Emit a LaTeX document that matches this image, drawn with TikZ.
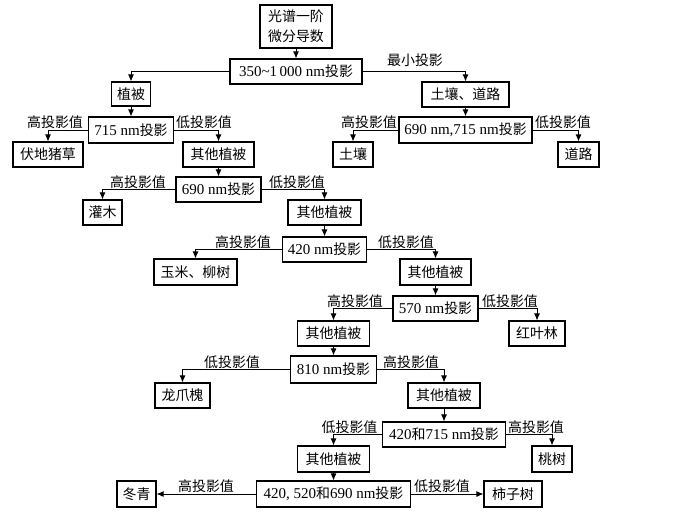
\documentclass[tikz,border=0pt]{standalone}
\usepackage{fontspec}
\setmainfont{Liberation Serif}
\newfontfamily\cjk[Scale=0.93]{Noto Sans CJK SC}
\newcommand\zh[1]{{\cjk #1}}
\usetikzlibrary{arrows.meta}
\begin{document}
\begin{tikzpicture}[x=1pt,y=-1pt,
  box/.style={draw, line width=1.1pt, minimum height=25pt, inner sep=0pt, font=\fontsize{15}{20}\selectfont},
  lab/.style={anchor=south, inner sep=1pt, font=\fontsize{15}{17}\selectfont},
  conn/.style={line width=0.9pt, -{Latex[length=7pt,width=6pt]}}]
\useasboundingbox (0,0) rectangle (700,511);
% boxes
\node[box, minimum width=72pt, minimum height=43pt, align=center] (top) at (296,26.5) {\zh{光谱一阶}\\\zh{微分导数}};
\node[box, minimum width=132pt] (p350) at (296,71.5) {350\textasciitilde1\,000 nm\zh{投影}};
\node[box, minimum width=39pt, minimum height=24pt] (zb) at (131,94) {\zh{植被}};
\node[box, minimum width=87pt] (trdl) at (465.5,94.5) {\zh{土壤、道路}};
\node[box, minimum width=85pt, minimum height=26pt] (p715) at (131,130) {715 nm\zh{投影}};
\node[box, minimum width=133pt, minimum height=26pt] (p690715) at (465.5,130) {690 nm,715 nm\zh{投影}};
\node[box, minimum width=70pt] (fdzc) at (48,154.5) {\zh{伏地猪草}};
\node[box, minimum width=71pt] (qt1) at (218.5,154.5) {\zh{其他植被}};
\node[box, minimum width=40pt] (tr) at (353,154.5) {\zh{土壤}};
\node[box, minimum width=41pt] (dl) at (578.5,154.5) {\zh{道路}};
\node[box, minimum width=85pt] (p690) at (218.5,189.5) {690 nm\zh{投影}};
\node[box, minimum width=39pt] (gm) at (102.5,212.5) {\zh{灌木}};
\node[box, minimum width=73pt] (qt2) at (324.5,212.5) {\zh{其他植被}};
\node[box, minimum width=84pt] (p420) at (324.5,249.5) {420 nm\zh{投影}};
\node[box, minimum width=83pt, minimum height=26pt] (ymls) at (195.5,272) {\zh{玉米、柳树}};
\node[box, minimum width=71pt, minimum height=26pt] (qt3) at (435.5,272) {\zh{其他植被}};
\node[box, minimum width=85pt] (p570) at (435.5,308.5) {570 nm\zh{投影}};
\node[box, minimum width=72pt] (qt4) at (333.5,333.5) {\zh{其他植被}};
\node[box, minimum width=56pt] (hyl) at (537,333.5) {\zh{红叶林}};
\node[box, minimum width=86pt, minimum height=27pt] (p810) at (333.5,369.5) {810 nm\zh{投影}};
\node[box, minimum width=55pt] (lzh) at (182.5,395.5) {\zh{龙爪槐}};
\node[box, minimum width=72pt] (qt5) at (444,395.5) {\zh{其他植被}};
\node[box, minimum width=123pt] (p420715) at (444,434.5) {420\zh{和}715 nm\zh{投影}};
\node[box, minimum width=72pt, minimum height=26pt] (qt6) at (333.5,459) {\zh{其他植被}};
\node[box, minimum width=40pt, minimum height=26pt] (ts) at (552,459) {\zh{桃树}};
\node[box, minimum width=154pt, minimum height=26pt] (p3) at (333.5,494) {420, 520\zh{和}690 nm\zh{投影}};
\node[box, minimum width=39pt, minimum height=26pt] (dq) at (136.5,494) {\zh{冬青}};
\node[box, minimum width=58pt, minimum height=26pt] (szs) at (513,494) {\zh{柿子树}};
% connectors
\draw[conn] (top.south) -- (p350.north);
\draw[conn] (p350.west) -| (zb.north);
\draw[conn] (p350.east) -| (trdl.north);
\draw[conn] (zb.south) -- (p715.north);
\draw[conn] (trdl.south) -- (p690715.north);
\draw[conn] (p715.west) -| (fdzc.north);
\draw[conn] (p715.east) -| (qt1.north);
\draw[conn] (p690715.west) -| (tr.north);
\draw[conn] (p690715.east) -| (dl.north);
\draw[conn] (qt1.south) -- (p690.north);
\draw[conn] (p690.west) -| (gm.north);
\draw[conn] (p690.east) -| (qt2.north);
\draw[conn] (qt2.south) -- (p420.north);
\draw[conn] (p420.west) -| (ymls.north);
\draw[conn] (p420.east) -| (qt3.north);
\draw[conn] (qt3.south) -- (p570.north);
\draw[conn] (p570.west) -| (qt4.north);
\draw[conn] (p570.east) -| (hyl.north);
\draw[conn] (qt4.south) -- (p810.north);
\draw[conn] (p810.west) -| (lzh.north);
\draw[conn] (p810.east) -| (qt5.north);
\draw[conn] (qt5.south) -- (p420715.north);
\draw[conn] (p420715.west) -| (qt6.north);
\draw[conn] (p420715.east) -| (ts.north);
\draw[conn] (qt6.south) -- (p3.north);
\draw[conn] (p3.west) -- (dq.east);
\draw[conn] (p3.east) -- (szs.west);
% labels
\node[lab] (l0) at (415,68) {\zh{最小投影}};
\node[lab] (l1) at (55,130) {\zh{高投影值}};
\node[lab] (l2) at (204,130) {\zh{低投影值}};
\node[lab] (l3) at (369,130) {\zh{高投影值}};
\node[lab] (l4) at (563,130) {\zh{低投影值}};
\node[lab] (l5) at (138,189.5) {\zh{高投影值}};
\node[lab] (l6) at (297,189.5) {\zh{低投影值}};
\node[lab] (l7) at (243,249.5) {\zh{高投影值}};
\node[lab] (l8) at (406,249.5) {\zh{低投影值}};
\node[lab] (l9) at (355,308.5) {\zh{高投影值}};
\node[lab] (l10) at (510,308.5) {\zh{低投影值}};
\node[lab] (l11) at (232,369.5) {\zh{低投影值}};
\node[lab] (l12) at (411,369.5) {\zh{高投影值}};
\node[lab] (l13) at (349.5,434.5) {\zh{低投影值}};
\node[lab] (l14) at (536,434.5) {\zh{高投影值}};
\node[lab] (l15) at (206,494) {\zh{高投影值}};
\node[lab] (l16) at (442,494) {\zh{低投影值}};
\end{tikzpicture}
\end{document}
